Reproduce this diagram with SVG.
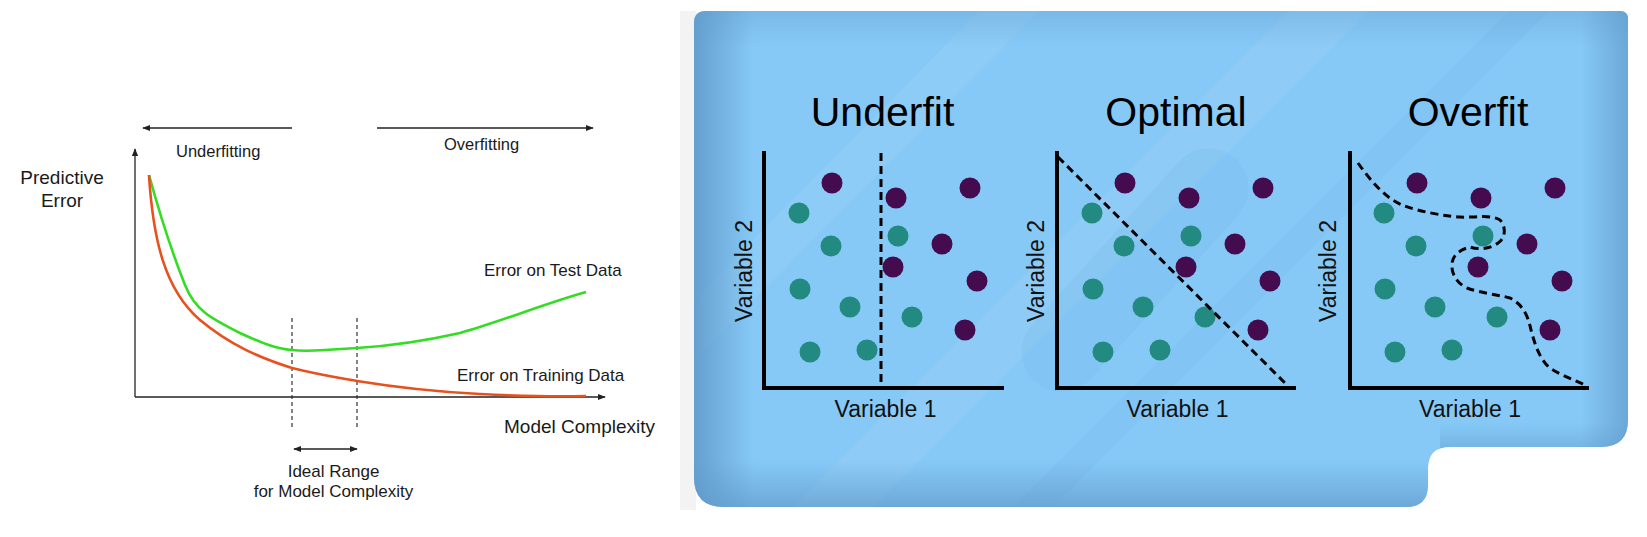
<svg xmlns="http://www.w3.org/2000/svg" width="1647" height="537" viewBox="0 0 1647 537">
<style>
.lt{font-family:"Liberation Sans",Arial,sans-serif;fill:#1a1a1a}
.ax{stroke:#222;stroke-width:1.3;fill:none}
.vd{stroke:#333;stroke-width:1.2;stroke-dasharray:4 3;fill:none}
.pa{stroke:#000;stroke-width:4;fill:none;stroke-linecap:square}
.pd{stroke:#000;stroke-width:3;stroke-dasharray:8 5;fill:none}
.tt{font-family:"Liberation Sans",Arial,sans-serif;font-size:41px;fill:#000;text-anchor:middle}
.vl{font-family:"Liberation Sans",Arial,sans-serif;font-size:23px;fill:#111;text-anchor:middle}
.t{fill:#228A80}
.p{fill:#440C4F}
</style>
<defs>
<marker id="ah" viewBox="0 0 10 10" refX="9" refY="5" markerWidth="8" markerHeight="8" markerUnits="userSpaceOnUse" orient="auto-start-reverse">
<path d="M0,1 L10,5 L0,9 Z" fill="#222"/>
</marker>
<clipPath id="pc"><path id="pp" d="M706,11 H1620 Q1628,11 1628,19 V420 Q1628,447 1601,447 H1450 Q1428,447 1428,469 V485 Q1428,507 1406,507 H724 Q694,507 694,477 V23 Q694,11 706,11 Z"/></clipPath>
<linearGradient id="gl" x1="0" y1="0" x2="1" y2="0">
<stop offset="0" stop-color="#5f98c8" stop-opacity="0.85"/>
<stop offset="1" stop-color="#5f98c8" stop-opacity="0"/>
</linearGradient>
<linearGradient id="gr" x1="1" y1="0" x2="0" y2="0">
<stop offset="0" stop-color="#5f98c8" stop-opacity="0.7"/>
<stop offset="1" stop-color="#5f98c8" stop-opacity="0"/>
</linearGradient>
<linearGradient id="gb" x1="0" y1="1" x2="0" y2="0">
<stop offset="0" stop-color="#5f98c8" stop-opacity="0.7"/>
<stop offset="1" stop-color="#5f98c8" stop-opacity="0"/>
</linearGradient>
<linearGradient id="gt" x1="0" y1="0" x2="0" y2="1">
<stop offset="0" stop-color="#5f98c8" stop-opacity="0.35"/>
<stop offset="1" stop-color="#5f98c8" stop-opacity="0"/>
</linearGradient>
<g id="dots">
<circle class="p" cx="832" cy="183" r="10.5"/>
<circle class="p" cx="896" cy="198" r="10.5"/>
<circle class="p" cx="970" cy="188" r="10.5"/>
<circle class="p" cx="942" cy="244" r="10.5"/>
<circle class="p" cx="893" cy="267" r="10.5"/>
<circle class="p" cx="977" cy="281" r="10.5"/>
<circle class="p" cx="965" cy="330" r="10.5"/>
<circle class="t" cx="799" cy="213" r="10.5"/>
<circle class="t" cx="898" cy="236" r="10.5"/>
<circle class="t" cx="831" cy="246" r="10.5"/>
<circle class="t" cx="800" cy="289" r="10.5"/>
<circle class="t" cx="850" cy="307" r="10.5"/>
<circle class="t" cx="912" cy="317" r="10.5"/>
<circle class="t" cx="810" cy="352" r="10.5"/>
<circle class="t" cx="867" cy="350" r="10.5"/>
</g>
</defs>
<rect width="1647" height="537" fill="#fff"/>

<!-- Left chart -->
<g id="left-chart">
<g id="axes">
<line class="ax" x1="135" y1="397" x2="135" y2="149" marker-end="url(#ah)"/>
<line class="ax" x1="135" y1="397" x2="605" y2="397" marker-end="url(#ah)"/>
<line class="ax" x1="292" y1="128" x2="143" y2="128" marker-end="url(#ah)"/>
<line class="ax" x1="377" y1="128" x2="593" y2="128" marker-end="url(#ah)"/>
<line class="ax" x1="294" y1="449" x2="357" y2="449" marker-start="url(#ah)" marker-end="url(#ah)"/>
<line class="vd" x1="292" y1="318" x2="292" y2="429"/>
<line class="vd" x1="357" y1="318" x2="357" y2="429"/>
</g>
<g id="curves">
<path d="M149,175 C160,215 175,260 185,285 C195,310 210,318 240,333 C260,342 275,349 292,350 C300,351 310,351 325,350 L357,348 C390,346 420,342 460,333 C500,322 540,305 586,292" fill="none" stroke="#33DD22" stroke-width="2.6"/>
<path d="M149,175 C153,240 165,290 200,320 C230,345 260,358 292,368 C320,375 340,378 357,381 C400,388 440,392 480,394 C520,396 550,397 586,396" fill="none" stroke="#E8501E" stroke-width="2.6"/>
</g>
<g id="left-labels">
<text class="lt" x="62" y="184" font-size="19" text-anchor="middle">Predictive</text>
<text class="lt" x="62" y="207" font-size="19" text-anchor="middle">Error</text>
<text class="lt" x="176" y="157" font-size="16.5">Underfitting</text>
<text class="lt" x="444" y="150" font-size="16.5">Overfitting</text>
<text class="lt" x="484" y="276" font-size="17">Error on Test Data</text>
<text class="lt" x="457" y="381" font-size="17">Error on Training Data</text>
<text class="lt" x="504" y="433" font-size="19">Model Complexity</text>
<text class="lt" x="333.5" y="477" font-size="17" text-anchor="middle">Ideal Range</text>
<text class="lt" x="333.5" y="497" font-size="17" text-anchor="middle">for Model Complexity</text>
</g>
</g>

<!-- Right panel -->
<g id="panel">
<rect x="680" y="11" width="16" height="499" fill="#f3f3f3"/>
<use href="#pp" fill="#86C9F7"/>
<g clip-path="url(#pc)">
<polygon points="694,300 1000,-10 1060,-10 694,360" fill="#ffffff" opacity="0.06"/>
<polygon points="780,520 1300,0 1380,0 860,520" fill="#ffffff" opacity="0.07"/>
<polygon points="1000,520 1520,0 1560,0 1040,520" fill="#3a7ab0" opacity="0.05"/>
<rect x="1095" y="120" width="80" height="300" rx="40" transform="rotate(42 1135 270)" fill="#3a7ab0" opacity="0.05"/>
<rect x="694" y="0" width="60" height="520" fill="url(#gl)"/>
<rect x="1580" y="0" width="50" height="520" fill="url(#gr)"/>
<rect x="690" y="460" width="940" height="50" fill="url(#gb)"/>
<rect x="1440" y="422" width="200" height="26" fill="url(#gb)" opacity="0.6"/>
<rect x="690" y="8" width="940" height="40" fill="url(#gt)"/>
</g>
</g>

<g id="plot-underfit">
<text class="tt" x="882.5" y="126">Underfit</text>
<use href="#dots"/>
<path class="pd" d="M881,153 V388"/>
<path class="pa" d="M764,153 V388 H1002"/>
<text class="vl" x="885.5" y="417">Variable 1</text>
<text class="vl" transform="translate(752,271) rotate(-90)">Variable 2</text>
</g>

<g id="plot-optimal">
<text class="tt" x="1176" y="126">Optimal</text>
<use href="#dots" transform="translate(293,0)"/>
<path class="pd" d="M1058,157 L1287,385"/>
<path class="pa" d="M1057,153 V388 H1294"/>
<text class="vl" x="1177.5" y="417">Variable 1</text>
<text class="vl" transform="translate(1044,271) rotate(-90)">Variable 2</text>
</g>

<g id="plot-overfit">
<text class="tt" x="1468" y="126">Overfit</text>
<use href="#dots" transform="translate(585,0)"/>
<path class="pd" d="M1358,163 C1370,180 1385,198 1402,205 C1420,212 1445,216 1460,217 C1475,218 1490,214 1500,220 C1506,226 1506,238 1498,243 C1490,249 1478,250 1470,247 C1462,249 1453,254 1452,263 C1451,272 1455,282 1467,288 C1480,293 1500,295 1510,298 C1522,304 1528,315 1531,330 C1535,345 1540,360 1550,368 C1562,376 1575,380 1585,385"/>
<path class="pa" d="M1350,153 V388 H1587"/>
<text class="vl" x="1470" y="417">Variable 1</text>
<text class="vl" transform="translate(1336,271) rotate(-90)">Variable 2</text>
</g>
</svg>
